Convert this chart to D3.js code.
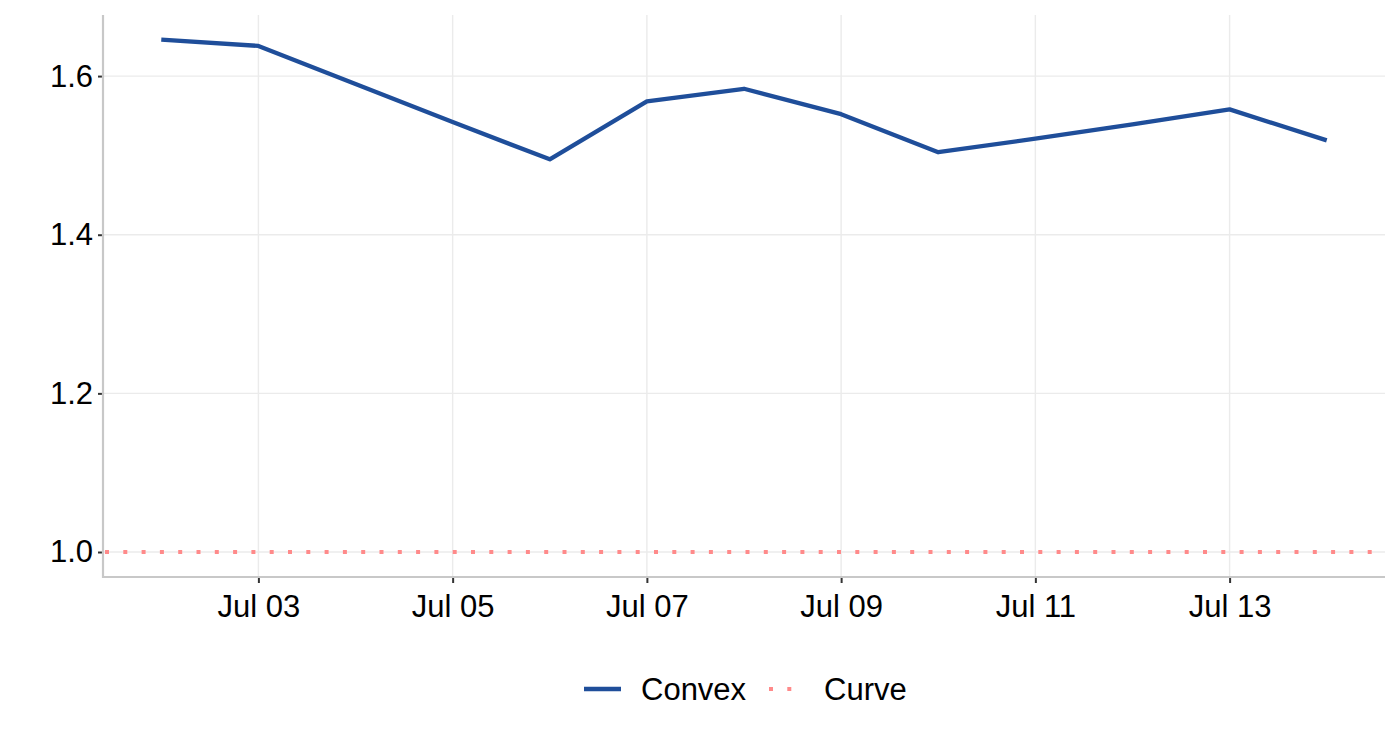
<!DOCTYPE html>
<html><head><meta charset="utf-8">
<script src="https://cdn.jsdelivr.net/npm/d3@7"></script>
<style>body{margin:0;background:#fff;font-family:"Liberation Sans",Arial,sans-serif;}</style>
</head><body><svg id="c" width="1400" height="740"></svg>
<script>
const dates = ["2021-07-02","2021-07-03","2021-07-04","2021-07-05","2021-07-06","2021-07-07","2021-07-08","2021-07-09","2021-07-10","2021-07-11","2021-07-12","2021-07-13","2021-07-14"];
const convex = [1.646,1.638,1.590,1.542,1.495,1.568,1.584,1.552,1.504,1.521,1.539,1.558,1.519];
const curve = [1,1,1,1,1,1,1,1,1,1,1,1,1];
const yTicks = [1.0,1.2,1.4,1.6];
const xTickDates = ["2021-07-03","2021-07-05","2021-07-07","2021-07-09","2021-07-11","2021-07-13"];
const seriesNames = ["Convex","Curve"];

const parse = d3.utcParse("%Y-%m-%d");
const xs = dates.map(parse);
const svg = d3.select("#c");
const L=103, R=1385, T=15, B=577;
const FS = 31;
const span = xs[xs.length-1]-xs[0];
const x = d3.scaleUtc().domain([new Date(+xs[0]-span*0.05), new Date(+xs[xs.length-1]+span*0.05)]).range([L,R]);
const y = d3.scaleLinear().domain([0.9685,1.677]).range([B,T]);

const g = svg.append("g");
g.selectAll(".gy").data(yTicks).join("line").attr("x1",L).attr("x2",R).attr("y1",d=>y(d)).attr("y2",d=>y(d)).attr("stroke","#ebebeb").attr("stroke-width",1.4);
g.selectAll(".gx").data(xTickDates.map(parse)).join("line").attr("y1",T).attr("y2",B).attr("x1",d=>x(d)).attr("x2",d=>x(d)).attr("stroke","#ebebeb").attr("stroke-width",1.4);

const line = d3.line().x((d,i)=>x(xs[i])).y(d=>y(d));
g.append("line").attr("x1",L+2).attr("x2",R).attr("y1",y(curve[0])).attr("y2",y(curve[0]))
 .attr("stroke","#ff8a8a").attr("stroke-width",4).attr("stroke-dasharray","4,14.3");
g.append("path").datum(convex).attr("d",line).attr("fill","none").attr("stroke","#1f4e9a").attr("stroke-width",4.3).attr("stroke-linejoin","round");

const ax = g.append("g").attr("transform",`translate(0,${B})`).call(d3.axisBottom(x).tickValues(xTickDates.map(parse)).tickFormat(d3.utcFormat("%b %d")).tickSizeOuter(0).tickSize(6).tickPadding(12));
ax.select(".domain").remove();
ax.selectAll(".tick line").attr("stroke","#333").attr("stroke-width",2);
ax.selectAll("text").attr("font-size",FS).attr("fill","#000").attr("font-family","Liberation Sans, Arial, sans-serif");
const ay = g.append("g").attr("transform",`translate(${L},0)`).call(d3.axisLeft(y).tickValues(yTicks).tickFormat(d3.format(".1f")).tickSizeOuter(0).tickSize(5).tickPadding(5));
ay.select(".domain").remove();
ay.selectAll(".tick line").attr("stroke","#333").attr("stroke-width",2);
ay.selectAll("text").attr("font-size",FS).attr("fill","#000").attr("font-family","Liberation Sans, Arial, sans-serif");
g.append("line").attr("x1",L).attr("x2",R).attr("y1",B).attr("y2",B).attr("stroke","#c8c8c8").attr("stroke-width",2.2);
g.append("line").attr("x1",L).attr("x2",L).attr("y1",T).attr("y2",B+1).attr("stroke","#c8c8c8").attr("stroke-width",2.2);

const lg = svg.append("g").attr("font-family","Liberation Sans, Arial, sans-serif");
lg.append("line").attr("x1",584).attr("x2",621).attr("y1",689).attr("y2",689).attr("stroke","#1f4e9a").attr("stroke-width",4.3);
lg.append("text").attr("x",641).attr("y",700).text(seriesNames[0]).attr("font-size",FS);
lg.append("line").attr("x1",767).attr("x2",805).attr("y1",689).attr("y2",689).attr("stroke","#ff8a8a").attr("stroke-width",4).attr("stroke-dasharray","4,14.3").attr("stroke-dashoffset",-2);
lg.append("text").attr("x",824).attr("y",700).text(seriesNames[1]).attr("font-size",FS);
</script></body></html>
